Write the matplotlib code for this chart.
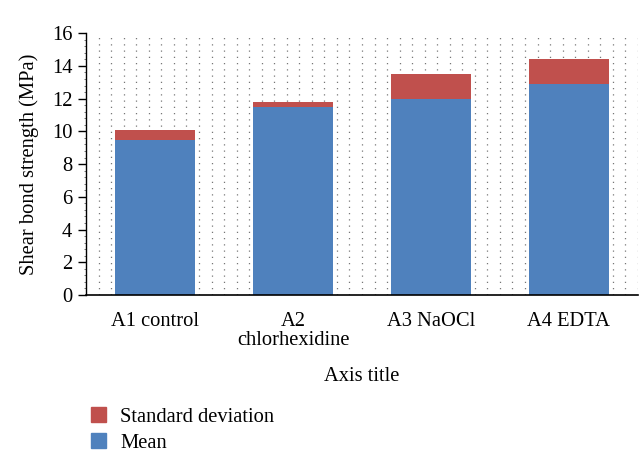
import matplotlib
matplotlib.use("Agg")
import matplotlib.pyplot as plt
import numpy as np
from matplotlib.patches import Patch

categories = ["A1 control", "A2\nchlorhexidine", "A3 NaOCl", "A4 EDTA"]
mean_vals = [9.5, 11.5, 12.0, 12.9]
sd_vals = [0.6, 0.3, 1.5, 1.5]
yticks = [0, 2, 4, 6, 8, 10, 12, 14, 16]

plt.rcParams['font.family'] = ['Liberation Serif', 'DejaVu Serif']

fig = plt.figure(figsize=(6.43, 4.61), dpi=100)
ax = fig.add_axes([0.134, 0.360, 0.858, 0.568])

blue = "#4F81BD"
red = "#C0504D"
x = np.arange(len(categories))
ax.set_xlim(-0.5, len(categories) - 0.5)
ax.set_ylim(0, 16)

# dotted vertical grid
for gx in np.arange(-0.5 + 1/11, len(categories) - 0.5 + 1e-6, 1/11):
    ax.axvline(gx, color="#777777", lw=0.9, linestyle=(0, (1.0, 4.0)), zorder=0)

ax.bar(x, mean_vals, width=0.575, color=blue, zorder=2, label="Mean")
ax.bar(x, sd_vals, bottom=mean_vals, width=0.575, color=red, zorder=2, label="Standard deviation")

ax.set_yticks(yticks)
ax.set_yticks(np.arange(0, 16.01, 0.4), minor=True)
ax.set_xticks(x)
ax.set_xticklabels(categories, fontsize=14.8, linespacing=1.05)
ax.tick_params(axis='x', length=0, pad=12)
ax.tick_params(axis='y', which='major', labelsize=14.8, length=6, width=1, direction='out', pad=4)
ax.tick_params(axis='y', which='minor', length=1.8, width=0.7, direction='out', color="#777777")
for s in ['top', 'right']:
    ax.spines[s].set_visible(False)
ax.spines['left'].set_linewidth(1.0)
ax.spines['bottom'].set_linewidth(1.2)
ax.set_ylabel("Shear bond strength (MPa)", fontsize=14.8, labelpad=9)
ax.set_xlabel("Axis title", fontsize=14.8, labelpad=12)

handles = [Patch(color=red, label="Standard deviation"), Patch(color=blue, label="Mean")]
fig.legend(handles=handles, loc="upper left", bbox_to_anchor=(0.128, 0.135), frameon=False,
           fontsize=14.8, handlelength=0.75, handleheight=0.75, handletextpad=0.7, labelspacing=0.3,
           borderaxespad=0)

fig.savefig("out.png", dpi=100)
